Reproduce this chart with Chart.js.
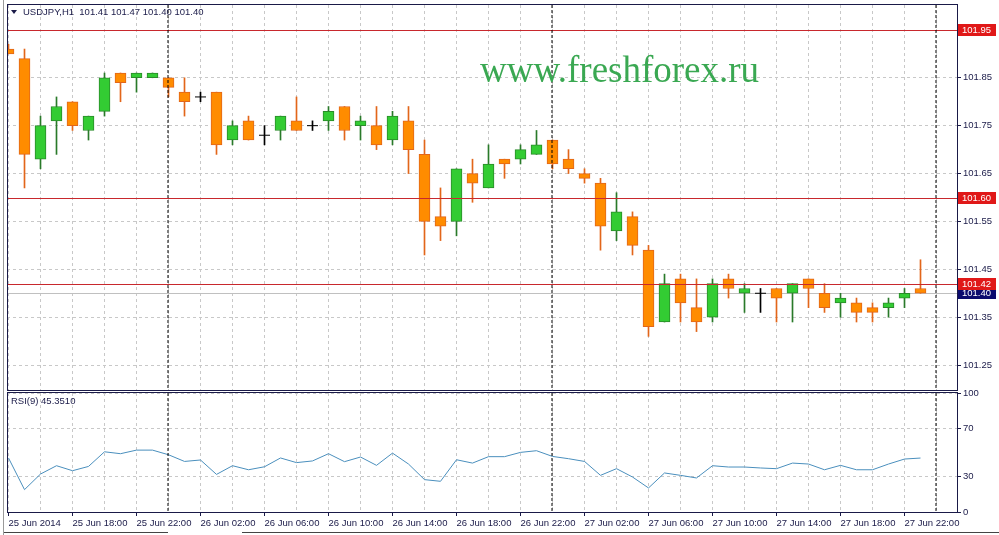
<!DOCTYPE html>
<html>
<head>
<meta charset="utf-8">
<script src="https://cdn.jsdelivr.net/npm/chart.js@4.4.1/dist/chart.umd.min.js"></script>
<style>
  body { margin: 0; background: #fff; width: 999px; height: 535px; overflow: hidden; position: relative; font-family: "Liberation Sans", Arial, sans-serif; }
  canvas { position: absolute; left: 0; }
  #price { top: 0; }
  #rsi { top: 390px; }
  .txt { position: absolute; white-space: pre; line-height: 1; color: #1a1a48; }
  #title { left: 23px; top: 7px; font-size: 9.5px; }
  #tri { position: absolute; left: 11px; top: 10px; width: 0; height: 0; border-left: 3px solid transparent; border-right: 3px solid transparent; border-top: 4px solid #1a1a48; }
  #mark { left: 480px; top: 51px; font-family: "Liberation Serif", "DejaVu Serif", serif; font-size: 37px; color: #3aa852; }
  #rsiName { left: 11px; top: 396px; font-size: 9.5px; }
  .edge { position: absolute; background: #9a9a9a; }
</style>
</head>
<body>
<canvas id="price" width="999" height="392"></canvas>
<canvas id="rsi" width="999" height="145"></canvas>
<div id="tri"></div>
<div class="txt" id="title">USDJPY,H1  101.41 101.47 101.40 101.40</div>
<div class="txt" id="mark">www.freshforex.ru</div>
<div class="txt" id="rsiName">RSI(9) 45.3510</div>
<div class="edge" style="left:3px;top:0;width:1px;height:535px"></div>
<div class="edge" style="left:4px;top:532px;width:164px;height:1px;background:#444"></div>
<div class="edge" style="left:242px;top:532px;width:757px;height:1px;background:#444"></div>
<script>
// USDJPY H1, bars from 25 Jun 14:00 to 27 Jun 23:00
const opens  = [101.91, 101.89, 101.68, 101.76, 101.80, 101.74, 101.78, 101.86, 101.85, 101.85,
                101.85, 101.82, 101.81, 101.82, 101.72, 101.76, 101.73, 101.74, 101.76, 101.75,
                101.76, 101.79, 101.75, 101.75, 101.72, 101.76, 101.69, 101.56, 101.55, 101.65,
                101.62, 101.68, 101.68, 101.69, 101.72, 101.68, 101.65, 101.63, 101.53, 101.56,
                101.49, 101.34, 101.43, 101.37, 101.35, 101.43, 101.40, 101.40, 101.41, 101.40,
                101.43, 101.40, 101.38, 101.38, 101.37, 101.37, 101.39, 101.41];
const highs  = [101.92, 101.91, 101.77, 101.81, 101.80, 101.77, 101.86, 101.86, 101.86, 101.86,
                101.85, 101.85, 101.82, 101.82, 101.76, 101.77, 101.75, 101.77, 101.81, 101.76,
                101.79, 101.79, 101.77, 101.79, 101.78, 101.79, 101.72, 101.62, 101.66, 101.68,
                101.71, 101.68, 101.71, 101.74, 101.72, 101.70, 101.66, 101.64, 101.61, 101.57,
                101.50, 101.44, 101.44, 101.43, 101.43, 101.44, 101.42, 101.41, 101.41, 101.42,
                101.43, 101.42, 101.40, 101.39, 101.38, 101.39, 101.41, 101.47];
const lows   = [101.90, 101.62, 101.66, 101.69, 101.74, 101.72, 101.77, 101.80, 101.82, 101.85,
                101.81, 101.77, 101.80, 101.69, 101.71, 101.72, 101.71, 101.72, 101.74, 101.74,
                101.74, 101.72, 101.72, 101.70, 101.71, 101.65, 101.48, 101.51, 101.52, 101.59,
                101.62, 101.64, 101.67, 101.69, 101.66, 101.65, 101.63, 101.49, 101.51, 101.48,
                101.31, 101.34, 101.34, 101.32, 101.34, 101.39, 101.36, 101.36, 101.34, 101.34,
                101.37, 101.36, 101.35, 101.34, 101.34, 101.35, 101.37, 101.40];
const closes = [101.90, 101.69, 101.75, 101.79, 101.75, 101.77, 101.85, 101.84, 101.86, 101.86,
                101.83, 101.80, 101.81, 101.71, 101.75, 101.72, 101.73, 101.77, 101.74, 101.75,
                101.78, 101.74, 101.76, 101.71, 101.77, 101.70, 101.55, 101.54, 101.66, 101.63,
                101.67, 101.67, 101.70, 101.71, 101.67, 101.66, 101.64, 101.54, 101.57, 101.50,
                101.33, 101.42, 101.38, 101.34, 101.42, 101.41, 101.41, 101.40, 101.39, 101.42,
                101.41, 101.37, 101.39, 101.36, 101.36, 101.38, 101.40, 101.40];
const rsiValues = [45.4, 18.8, 31.9, 38.9, 34.7, 38.3, 50.6, 49.0, 52.0, 52.0,
                   48.1, 42.5, 43.7, 31.6, 38.9, 35.5, 38.0, 45.4, 41.5, 42.9,
                   49.0, 42.3, 46.2, 39.2, 49.5, 40.3, 27.2, 25.8, 43.9, 41.1,
                   46.5, 46.5, 50.1, 51.5, 46.7, 44.8, 42.5, 30.8, 36.4, 29.4,
                   20.2, 32.8, 30.8, 28.6, 38.9, 37.8, 37.8, 37.0, 36.4, 41.1,
                   40.3, 35.5, 39.2, 35.5, 35.5, 40.3, 44.5, 45.35];
const tickLabels = ['25 Jun 2014', '25 Jun 18:00', '25 Jun 22:00', '26 Jun 02:00', '26 Jun 06:00',
                    '26 Jun 10:00', '26 Jun 14:00', '26 Jun 18:00', '26 Jun 22:00', '27 Jun 02:00',
                    '27 Jun 06:00', '27 Jun 10:00', '27 Jun 14:00', '27 Jun 18:00', '27 Jun 22:00'];
const priceTicks = [101.25, 101.35, 101.45, 101.55, 101.65, 101.75, 101.85];
const rsiTicks = [0, 30, 70, 100];
const levelLines = [101.95, 101.60, 101.42];
const bidLevel = 101.40;
const separatorBars = [10, 34, 58]; // day starts

const AXIS = '#1a1a48';
const GRID = '#c8c8c8';
const FONT = { family: '"Liberation Sans", Arial, sans-serif', size: 9.5 };
const X_MIN = -0.09375, X_MAX = 59.28125;

const gridTicks = () => Array.from({ length: 30 }, (_, k) => ({ value: k * 2 }));

const bodies = opens.map((o, i) => ({ x: i, y: [o, closes[i]] }));
const wicks = lows.map((l, i) => ({ x: i, y: [l, highs[i]] }));
const dojis = opens.map((o, i) => ({ x: i, y: closes[i] })).filter((p, i) => opens[i] === closes[i]);
const kind = opens.map((o, i) => closes[i] > o ? 'up' : closes[i] < o ? 'down' : 'flat');
const bodyFill = kind.map(k => k === 'up' ? '#33cc33' : k === 'down' ? '#ff8c00' : 'rgba(0,0,0,0)');
const bodyEdge = kind.map(k => k === 'up' ? '#2a8a2a' : k === 'down' ? '#e2661a' : 'rgba(0,0,0,0)');
const wickColor = kind.map(k => k === 'up' ? '#2a7a2a' : k === 'down' ? '#e2661a' : '#000');

function frameAndSeparators(chart) {
  const { ctx, chartArea: a, scales: { x } } = chart;
  ctx.save();
  ctx.beginPath();
  ctx.rect(a.left, a.top, a.right - a.left, a.bottom - a.top);
  ctx.clip();
  ctx.strokeStyle = '#000';
  ctx.lineWidth = 1;
  ctx.setLineDash([3, 2]);
  separatorBars.forEach(b => {
    const px = x.getPixelForValue(b) - 0.5;
    ctx.beginPath();
    ctx.moveTo(px, a.top);
    ctx.lineTo(px, a.bottom);
    ctx.stroke();
  });
  ctx.restore();
  ctx.save();
  ctx.strokeStyle = AXIS;
  ctx.lineWidth = 1;
  ctx.strokeRect(a.left + 0.5, a.top - 0.5, a.right - a.left, a.bottom - a.top + 1);
  ctx.restore();
}

function tag(ctx, y, text, color) {
  ctx.fillStyle = color;
  ctx.fillRect(958, Math.round(y) - 6, 38, 12);
  ctx.fillStyle = '#fff';
  ctx.font = '9.5px "Liberation Sans", Arial, sans-serif';
  ctx.textBaseline = 'middle';
  ctx.fillText(text, 962, Math.round(y) + 0.5);
}

const priceOverlay = {
  id: 'priceOverlay',
  beforeDatasetsDraw(chart) {
    const { ctx, chartArea: a, scales: { y } } = chart;
    const py = Math.round(y.getPixelForValue(bidLevel)) + 0.5;
    ctx.save();
    ctx.strokeStyle = '#c0c0c0';
    ctx.beginPath(); ctx.moveTo(a.left, py); ctx.lineTo(a.right, py); ctx.stroke();
    ctx.restore();
  },
  afterDatasetsDraw(chart) {
    const { ctx, chartArea: a, scales: { y } } = chart;
    ctx.save();
    ctx.strokeStyle = '#c8282d';
    ctx.lineWidth = 1;
    levelLines.forEach(v => {
      const py = Math.round(y.getPixelForValue(v)) + 0.5;
      ctx.beginPath(); ctx.moveTo(a.left, py); ctx.lineTo(a.right, py); ctx.stroke();
    });
    ctx.restore();
  },
  afterDraw(chart) {
    const { ctx, scales: { y } } = chart;
    frameAndSeparators(chart);
    ctx.save();
    tag(ctx, y.getPixelForValue(bidLevel), bidLevel.toFixed(2), '#0a0a6e');
    levelLines.forEach(v => tag(ctx, y.getPixelForValue(v), v.toFixed(2), '#e01818'));
    ctx.restore();
  }
};

const rsiOverlay = { id: 'rsiOverlay', afterDraw: frameAndSeparators };

const xScale = (showLabels) => ({
  type: 'linear', min: X_MIN, max: X_MAX, offset: false,
  afterBuildTicks: s => { s.ticks = gridTicks(); },
  afterFit: s => { s.height = showLabels ? 23 : 0; s.paddingLeft = 0; s.paddingRight = 0; },
  ticks: {
    display: showLabels, autoSkip: false, maxRotation: 0, minRotation: 0, align: 'start',
    padding: 2, color: AXIS, font: FONT,
    callback: v => v % 4 === 0 ? (tickLabels[v / 4] || '') : ''
  },
  grid: {
    offset: false, color: GRID, drawTicks: showLabels, tickLength: 4,
    tickColor: c => (c.tick && c.tick.value % 4 === 0 && c.tick.value <= 56) ? AXIS : 'rgba(0,0,0,0)'
  },
  border: { display: false, dash: [3, 3] }
});

const yScale = (min, max, values, fmt) => ({
  position: 'right', min, max,
  afterBuildTicks: s => { s.ticks = values.map(v => ({ value: v })); },
  afterFit: s => { s.width = 42; s.paddingTop = 0; s.paddingBottom = 0; },
  ticks: { color: AXIS, font: FONT, padding: 2, callback: fmt },
  grid: { color: GRID, tickColor: AXIS, tickLength: 4 },
  border: { display: false, dash: [3, 3] }
});

new Chart(document.getElementById('price'), {
  type: 'bar',
  data: {
    datasets: [
      { type: 'line', data: dojis, showLine: false, pointStyle: 'line', pointRadius: 5.5,
        borderColor: '#000', borderWidth: 1, order: 0, clip: 0 },
      { data: bodies, backgroundColor: bodyFill, borderColor: bodyEdge, borderWidth: 1,
        borderSkipped: false, barThickness: 11, grouped: false, order: 1, clip: 0 },
      { data: wicks, backgroundColor: wickColor, barThickness: 1, grouped: false, order: 2, clip: 0 }
    ]
  },
  options: {
    responsive: false, animation: false, events: [],
    layout: { autoPadding: false, padding: { left: 7, top: 5, right: 0, bottom: 2 } },
    plugins: { legend: { display: false }, tooltip: { enabled: false } },
    scales: {
      x: xScale(false),
      y: yScale(101.198, 102.002, priceTicks, v => v.toFixed(2))
    }
  },
  plugins: [priceOverlay]
});

new Chart(document.getElementById('rsi'), {
  type: 'line',
  data: {
    datasets: [{
      data: rsiValues.map((v, i) => ({ x: i, y: v })),
      borderColor: '#4a8fbd', borderWidth: 1, pointRadius: 0, tension: 0, clip: 0
    }]
  },
  options: {
    responsive: false, animation: false, events: [],
    layout: { autoPadding: false, padding: { left: 7, top: 3, right: 0, bottom: 0 } },
    plugins: { legend: { display: false }, tooltip: { enabled: false } },
    scales: {
      x: xScale(true),
      y: yScale(0, 100, rsiTicks, v => String(v))
    }
  },
  plugins: [rsiOverlay]
});
</script>
</body>
</html>
